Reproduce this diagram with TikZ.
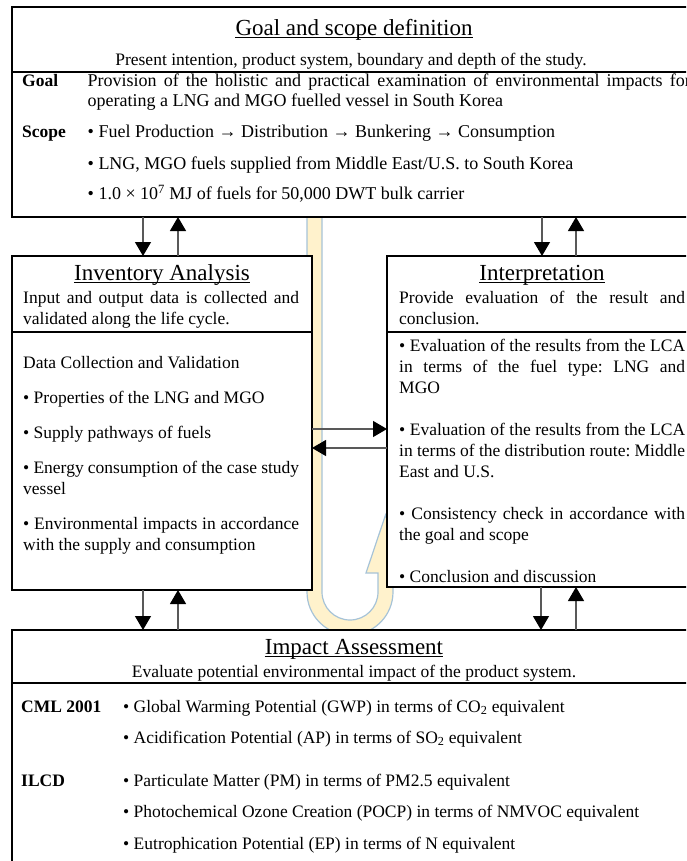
\documentclass[tikz,border=0pt]{standalone}
\usepackage{fontspec}
\setmainfont{Liberation Serif}
\usetikzlibrary{arrows.meta}
\newcommand\bodyfont{\fontsize{17.5}{21}\selectfont}
\newcommand\goalfont{\fontsize{18}{20}\selectfont}
\newcommand\titlefont{\fontsize{23}{27}\selectfont}
\definecolor{bandfill}{HTML}{FFF2CC}
\definecolor{bandline}{HTML}{A6C3D8}
\definecolor{arrline}{HTML}{595959}
\hyphenpenalty=10000
\tolerance=9999
\frenchspacing
\tikzset{
  box/.style={draw=black, line width=1.6pt, fill=white, inner sep=0pt, outer sep=0pt, anchor=north west},
  sepline/.style={draw=black, line width=1.6pt},
  ttl/.style={inner sep=0pt, anchor=base, font=\titlefont},
  subttl/.style={inner sep=0pt, anchor=base, font=\bodyfont},
  txt/.style={inner sep=0pt, anchor=base west, font=\bodyfont},
  lbl/.style={txt, font=\bodyfont\bfseries},
  para/.style={txt, align=justify},
  uline/.style={line width=0.8pt},
  arr/.style={draw=arrline, line width=1.2pt, -{Triangle[length=14pt,width=16pt,color=black]}},
}
\begin{document}
\begin{tikzpicture}[x=1pt, y=1pt]
    \useasboundingbox (0,0) rectangle (686,-861);
    \clip (0,0) rectangle (686,-861);
    % U-shaped band behind the boxes
    \filldraw[fill=bandfill, draw=bandline, line width=1.2pt] (307,-100) -- (307,-592) arc[start angle=180, end angle=360, radius=43] -- (393,-573) -- (405,-573) -- (385.5,-515) -- (366,-573) -- (378,-573) -- (378,-592) arc[start angle=0, end angle=-180, radius=28] -- (322,-100) -- cycle;
    % boxes
    \node[box, minimum width=700pt, minimum height=210pt] (goal) at (12,-7) {};
    \node[box, minimum width=300pt, minimum height=334pt] (inv) at (12,-256) {};
    \node[box, minimum width=310pt, minimum height=331pt] (interp) at (387,-256) {};
    \node[box, minimum width=700pt, minimum height=300pt] (impact) at (12,-630) {};
    \draw[sepline] (goal.west |- 0,-72) -- (goal.east |- 0,-72);
    \draw[sepline] (inv.west |- 0,-332) -- (inv.east |- 0,-332);
    \draw[sepline] (interp.west |- 0,-332) -- (interp.east |- 0,-332);
    \draw[sepline] (impact.west |- 0,-683) -- (impact.east |- 0,-683);
    % titles
    \node[ttl] (goalttl) at (354,-35.5) {Goal and scope definition};
    \node[ttl] (invttl) at (162,-280.5) {Inventory Analysis};
    \node[ttl] (intttl) at (542,-280.5) {Interpretation};
    \node[ttl] (impttl) at (354,-654.5) {Impact Assessment};
    \foreach \t in {goalttl,invttl,intttl,impttl}
        \draw[uline] ([yshift=-2pt]\t.base west) -- ([yshift=-2pt]\t.base east);
    \node[subttl] (goalsub) at (351,-66) {Present intention, product system, boundary and depth of the study.};
    \node[subttl] (impsub) at (354,-677) {Evaluate potential environmental impact of the product system.};
    \node[para, text width=276pt] (invsub) at (23,-303.5) {Input and output data is collected and validated along the life cycle.};
    \node[para, text width=286pt] (intsub) at (399,-303.5) {Provide evaluation of the result and conclusion.};
    % goal and scope
    \node[lbl] (goallbl) at (22,-87) {Goal};
    \node[para, text width=603pt, font=\goalfont] (goaltxt) at (87.5,-87) {Provision of the holistic and practical examination of environmental impacts for operating a LNG and MGO fuelled vessel in South Korea};
    \node[lbl] (scopelbl) at (22,-138) {Scope};
    \node[txt, font=\goalfont] (scope1) at (87.5,-138) {• Fuel Production → Distribution → Bunkering → Consumption};
    \node[txt, font=\goalfont] (scope2) at (87.5,-170) {• LNG, MGO fuels supplied from Middle East/U.S. to South Korea};
    \node[txt, font=\goalfont] (scope3) at (87.5,-200) {• 1.0 × 10\textsuperscript{7} MJ of fuels for 50,000 DWT bulk carrier};
    % inventory
    \node[para, text width=276pt] (invbody) at (23,-368.5) {\setlength\parskip{14pt}Data Collection and Validation\par
        • Properties of the LNG and MGO\par
        • Supply pathways of fuels\par
        • Energy consumption of the case study vessel\par
        • Environmental impacts in accordance with the supply and consumption};
    % interpretation
    \node[para, text width=286pt] (intbody) at (399,-351) {\setlength\parskip{21pt}• Evaluation of the results from the LCA in terms of the fuel type: LNG and\linebreak MGO\par
        • Evaluation of the results from the LCA in terms of the distribution route: Middle East and U.S.\par
        • Consistency check in accordance with the goal and scope\par
        • Conclusion and discussion};
    % impact assessment
    \node[lbl] (cmllbl) at (21,-712) {CML 2001};
    \node[txt] (gwp) at (123,-712) {• Global Warming Potential (GWP) in terms of CO\textsubscript{2} equivalent};
    \node[txt] (ap) at (123,-743) {• Acidification Potential (AP) in terms of SO\textsubscript{2} equivalent};
    \node[lbl] (ilcdlbl) at (21,-786) {ILCD};
    \node[txt] (pm) at (123,-786) {• Particulate Matter (PM) in terms of PM2.5 equivalent};
    \node[txt] (pocp) at (123,-817) {• Photochemical Ozone Creation (POCP) in terms of NMVOC equivalent};
    \node[txt] (ep) at (123,-849) {• Eutrophication Potential (EP) in terms of N equivalent};
    % arrows
    \draw[arr] ([xshift=131pt]goal.south west) -- ([xshift=131pt]inv.north west);
    \draw[arr] ([xshift=166pt]inv.north west) -- ([xshift=166pt]goal.south west);
    \draw[arr] ([xshift=530pt]goal.south west) -- ([xshift=155pt]interp.north west);
    \draw[arr] ([xshift=189pt]interp.north west) -- ([xshift=564pt]goal.south west);
    \draw[arr] ([xshift=131pt]inv.south west) -- ([xshift=131pt]impact.north west);
    \draw[arr] ([xshift=166pt]impact.north west) -- ([xshift=166pt]inv.south west);
    \draw[arr] ([xshift=154pt]interp.south west) -- ([xshift=529pt]impact.north west);
    \draw[arr] ([xshift=564pt]impact.north west) -- ([xshift=189pt]interp.south west);
    \draw[arr] ([yshift=-173pt]inv.north east) -- ([yshift=-173pt]interp.north west);
    \draw[arr] ([yshift=-192pt]interp.north west) -- ([yshift=-192pt]inv.north east);
\end{tikzpicture}
\end{document}
